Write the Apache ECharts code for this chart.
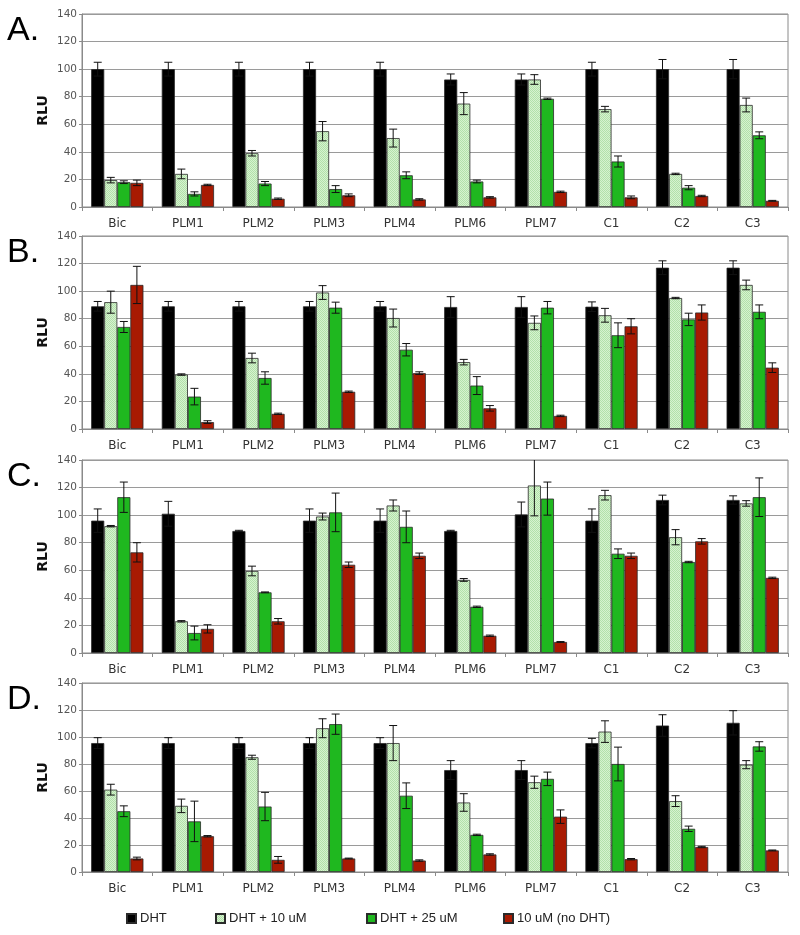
<!DOCTYPE html>
<html><head><meta charset="utf-8">
<script src="https://cdn.jsdelivr.net/npm/echarts@6/dist/echarts.min.js"></script>
<style>html,body{margin:0;padding:0;background:#fff}#c{width:800px;height:935px}</style>
</head><body><div id="c"></div>
<script>
var categories = ['Bic','PLM1','PLM2','PLM3','PLM4','PLM6','PLM7','C1','C2','C3'];
var seriesNames = ['DHT','DHT + 10 uM','DHT + 25 uM','10 uM (no DHT)'];
var panelLabels = ['A.','B.','C.','D.'];
var yTicks = [0,20,40,60,80,100,120,140];

// Panel A
var A_dht = [100,100,100,100,100,92.5,92.5,100,100,100];
var A_dhtErr = [5,5,5,5,5,4,4,5,7,7];
var A_t10 = [19.5,24,39,55,50,75,92.5,71,24,74];
var A_t10Err = [2,3.5,2,7,6.5,8,3.5,2,0.5,5];
var A_t25 = [18,9.5,17,13,23,18.5,78.5,33,14,52];
var A_t25Err = [1,1.5,1.5,2.5,2.5,1,0.5,4,1.5,2.5];
var A_no = [17.5,16,6,8.5,5.5,7,11,7,8,4.5];
var A_noErr = [2,0.5,0.5,1,0.5,0.5,0.5,1,0.5,0.3];

// Panel B
var B_dht = [89,89,89,89,89,88.5,88.5,88.7,117,117];
var B_dhtErr = [3.5,3.5,3.5,3.5,3.5,7.5,7.5,3.5,5,5];
var B_t10 = [92,39.5,51.5,99,80.5,48.5,77,82.5,95,104.5];
var B_t10Err = [8,0.5,3.5,5,6.5,2,5,5,0.5,3.5];
var B_t25 = [74,23.5,37,88,57.5,31.5,88,68,79.5,85];
var B_t25Err = [4,6,4.5,4,4.5,6.5,4.5,9,4.5,5];
var B_no = [104.5,5,11,27,40.5,15,9.5,74.5,84.5,44.5];
var B_noErr = [13.5,1,0.5,0.5,1,2,0.5,5.5,5.5,3.5];

// Panel C
var C_dht = [96,101,88.5,96,96,88.5,100.5,96,111,111];
var C_dhtErr = [8.5,9,0.5,8.5,8.5,0.5,9,8.5,3.5,3];
var C_t10 = [92,23,59.5,99,107,53,121.5,114.5,84,108.5];
var C_t10Err = [0.5,0.5,3.5,2.5,4,1,22,3.5,5.5,2];
var C_t25 = [113,14.5,44,102,91.5,33.5,112,72,66,113];
var C_t25Err = [11,5,0.3,14,11.5,0.5,12,3.5,0.5,14];
var C_no = [73,17.5,23,64,70.5,12.5,8,70.5,81,54.5];
var C_noErr = [7,3,2,2,2,0.5,0.3,2,2,0.5];

// Panel D
var D_dht = [95.5,95.5,95.5,95.5,95.5,75.5,75.5,95.5,108.5,110.5];
var D_dhtErr = [4,4,4,4,4,7,7,3.5,8,9];
var D_t10 = [61,49,85,106.5,95.5,51.5,66.5,104,52.5,79.5];
var D_t10Err = [4,5,1.5,7,13,6.5,4.5,8,4,3];
var D_t25 = [45,37.5,48.5,109.5,56.5,27.5,69,80,32,93];
var D_t25Err = [4,15,10.5,7.5,9.5,0.5,5,12.5,2,3.5];
var D_no = [10,26.5,9,10,8.5,13,41,9.5,18.5,16];
var D_noErr = [1,0.5,2.5,0.3,0.5,0.5,5,0.5,0.5,0.3];

var panels = [
  {vals:[A_dht,A_t10,A_t25,A_no], errs:[A_dhtErr,A_t10Err,A_t25Err,A_noErr]},
  {vals:[B_dht,B_t10,B_t25,B_no], errs:[B_dhtErr,B_t10Err,B_t25Err,B_noErr]},
  {vals:[C_dht,C_t10,C_t25,C_no], errs:[C_dhtErr,C_t10Err,C_t25Err,C_noErr]},
  {vals:[D_dht,D_t10,D_t25,D_no], errs:[D_dhtErr,D_t10Err,D_t25Err,D_noErr]}
];

// layout (styles only)
var gridTops = [14, 236, 460, 683];
var gridHeights = [193, 193, 193, 189];
var GAP = 0.26;
var YMAX = 140;

var pc = document.createElement('canvas');
pc.width = 2; pc.height = 2;
var pctx = pc.getContext('2d');
pctx.fillStyle = '#d6f2cf'; pctx.fillRect(0,0,2,2);
pctx.fillStyle = '#b2e1aa'; pctx.fillRect(0,0,1,1); pctx.fillRect(1,1,1,1);

var colors = ['#000000', {image: pc, repeat: 'repeat'}, '#1fb81f', '#a81a02'];

var grids = [], xAxes = [], yAxes = [], series = [], graphics = [];
for (var p = 0; p < 4; p++) {
  grids.push({left: 82, right: 12, top: gridTops[p], height: gridHeights[p], show: true, borderColor: '#8a8a8a', borderWidth: 1});
  xAxes.push({type: 'category', gridIndex: p, data: categories,
    axisLine: {lineStyle: {color: '#8a8a8a'}},
    axisTick: {show: true, length: 4, lineStyle: {color: '#8a8a8a'}},
    axisLabel: {margin: 11, fontSize: 12, color: '#333', fontFamily: 'DejaVu Sans'}});
  yAxes.push({type: 'value', gridIndex: p, min: 0, max: YMAX, interval: 20,
    axisLine: {show: true, lineStyle: {color: '#8a8a8a'}},
    axisTick: {show: true, length: 3, lineStyle: {color: '#8a8a8a'}},
    axisLabel: {fontSize: 10.5, color: '#555', margin: 5, fontFamily: 'DejaVu Sans'},
    splitLine: {lineStyle: {color: '#9a9a9a', width: 1}}});
  for (var k = 0; k < 4; k++) {
    series.push({type: 'bar', name: seriesNames[k], xAxisIndex: p, yAxisIndex: p,
      data: panels[p].vals[k], barGap: 0, barCategoryGap: (GAP*100) + '%',
      itemStyle: {color: colors[k], borderColor: '#2a2a2a', borderWidth: 0.8},
      emphasis: {disabled: true}, animation: false});
  }
  for (var k2 = 0; k2 < 4; k2++) {
    var d = [];
    for (var i = 0; i < categories.length; i++) d.push([i, panels[p].vals[k2][i], panels[p].errs[k2][i]]);
    series.push({type: 'custom', name: seriesNames[k2] + ' err', xAxisIndex: p, yAxisIndex: p, z: 5,
      data: d, animation: false, silent: true,
      renderItem: (function(k){ return function(params, api){
        var c = api.value(0), v = api.value(1), e = api.value(2);
        var catW = api.size([1, 0])[0];
        var bw = catW * (1 - GAP) / 4;
        var pt = api.coord([c, v]);
        var x = pt[0] + (k - 1.5) * bw;
        var topV = Math.min(v + e, YMAX);
        var yt = api.coord([c, topV])[1];
        var yb = api.coord([c, v - e])[1];
        var hw = 4;
        var st = {stroke: '#111', lineWidth: 1};
        var ch = [{type: 'line', shape: {x1: x, y1: yt, x2: x, y2: yb}, style: st},
                  {type: 'line', shape: {x1: x - hw, y1: yb, x2: x + hw, y2: yb}, style: st}];
        if (v + e <= YMAX) ch.push({type: 'line', shape: {x1: x - hw, y1: yt, x2: x + hw, y2: yt}, style: st});
        return {type: 'group', children: ch};
      }; })(k2)});
  }
  graphics.push({type: 'text', left: 7, top: gridTops[p],
    style: {text: panelLabels[p], fontSize: 34, fontFamily: 'Liberation Sans', fill: '#000'}});
  graphics.push({type: 'text', x: 43, y: gridTops[p] + gridHeights[p] / 2, rotation: Math.PI / 2,
    style: {text: 'RLU', fontSize: 14, fontWeight: 'bold', fontFamily: 'DejaVu Sans', fill: '#111',
      align: 'center', verticalAlign: 'middle', textAlign: 'center', textVerticalAlign: 'middle'}});
}

var legendX = [121, 210, 361, 498];
var legends = [];
for (var L = 0; L < 4; L++) {
  legends.push({data: [seriesNames[L]], left: legendX[L], top: 907, itemWidth: 9, itemHeight: 9,
    icon: 'rect', itemGap: 4, selectedMode: false,
    textStyle: {fontSize: 13, color: '#222', fontFamily: 'Liberation Sans', padding: [0,0,0,-1]}});
}

var chart = echarts.init(document.getElementById('c'), null, {renderer: 'canvas'});
chart.setOption({
  animation: false,
  grid: grids, xAxis: xAxes, yAxis: yAxes, series: series,
  legend: legends, graphic: graphics
});
</script></body></html>
